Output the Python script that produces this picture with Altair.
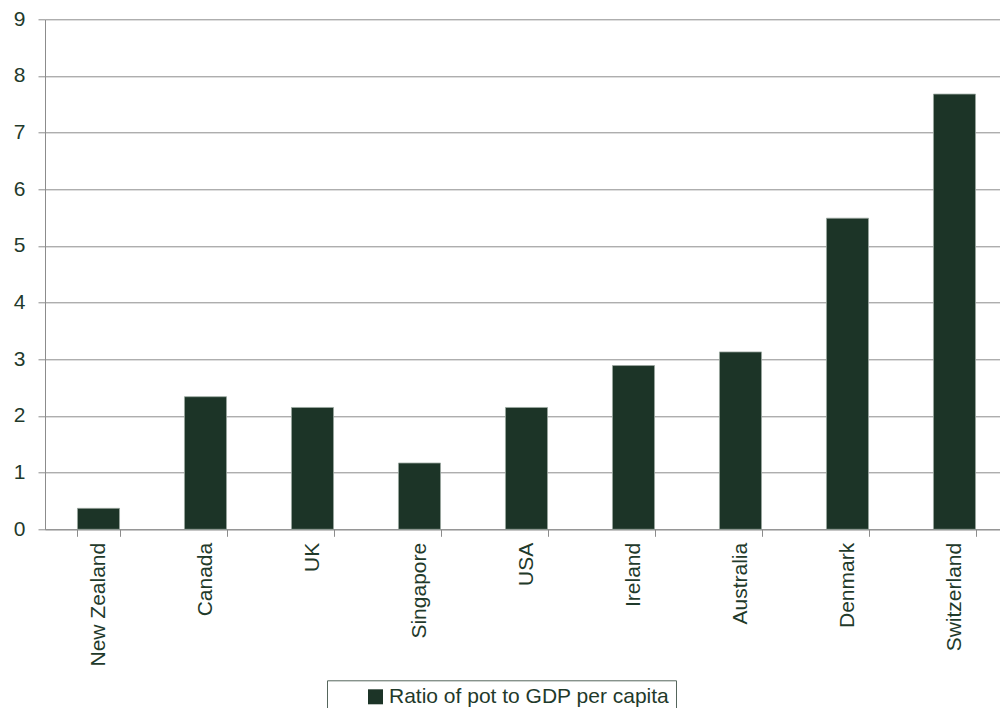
import altair as alt
import pandas as pd

countries = ["New Zealand", "Canada", "UK", "Singapore", "USA", "Ireland",
             "Australia", "Denmark", "Switzerland"]
ratios = [0.37, 2.34, 2.15, 1.17, 2.15, 2.89, 3.13, 5.49, 7.68]
series_name = "Ratio of pot to GDP per capita"
y_ticks = [0, 1, 2, 3, 4, 5, 6, 7, 8, 9]

df = pd.DataFrame({"country": countries, "ratio": ratios,
                   "series": [series_name] * len(countries)})

BAR = "#1c3427"
TXT = "#1f3a2b"
GRID = "#8c8c8c"
FONT = "Liberation Sans"

chart = alt.Chart(df).mark_bar(
    stroke="#9aa79f", strokeWidth=0.8
).encode(
    x=alt.X("country:N", sort=None,
            scale=alt.Scale(paddingInner=0.607, paddingOuter=0.3035,
                            range=[0, 963]),
            axis=alt.Axis(title=None, labelAngle=-90, labelFontSize=21,
                          labelFont=FONT, labelColor=TXT, labelPadding=6,
                          tickBand="extent", tickSize=7, tickColor=GRID,
                          domainColor=GRID, grid=False, labelLimit=300)),
    y=alt.Y("ratio:Q",
            scale=alt.Scale(domain=[0, 9], nice=False),
            axis=alt.Axis(title=None, values=y_ticks, format="d",
                          labelFontSize=21, labelFont=FONT, labelColor=TXT,
                          labelPadding=13, tickSize=7, tickColor=GRID,
                          domainColor=GRID, gridColor=GRID, grid=True)),
    color=alt.Color("series:N", scale=alt.Scale(range=[BAR]),
                    legend=alt.Legend(title=None, orient="none",
                                      legendX=282, legendY=661,
                                      padding=6, strokeColor="#55665c",
                                      symbolType="square", symbolSize=225,
                                      symbolStrokeWidth=0, symbolOffset=32,
                                      labelFontSize=21, labelFont=FONT,
                                      labelColor=TXT, labelOffset=3,
                                      labelExpr="datum.label + '\u2003\u2002'",
                                      labelLimit=400, fillColor="white"))
).properties(
    width=955, height=510,
    autosize=alt.AutoSizeParams(type="none"),
    padding={"left": 37, "top": 11.3, "right": 0, "bottom": 178.7}
).configure_view(stroke=None)

chart.save("out.html", embed_options={"renderer": "svg", "actions": False})
